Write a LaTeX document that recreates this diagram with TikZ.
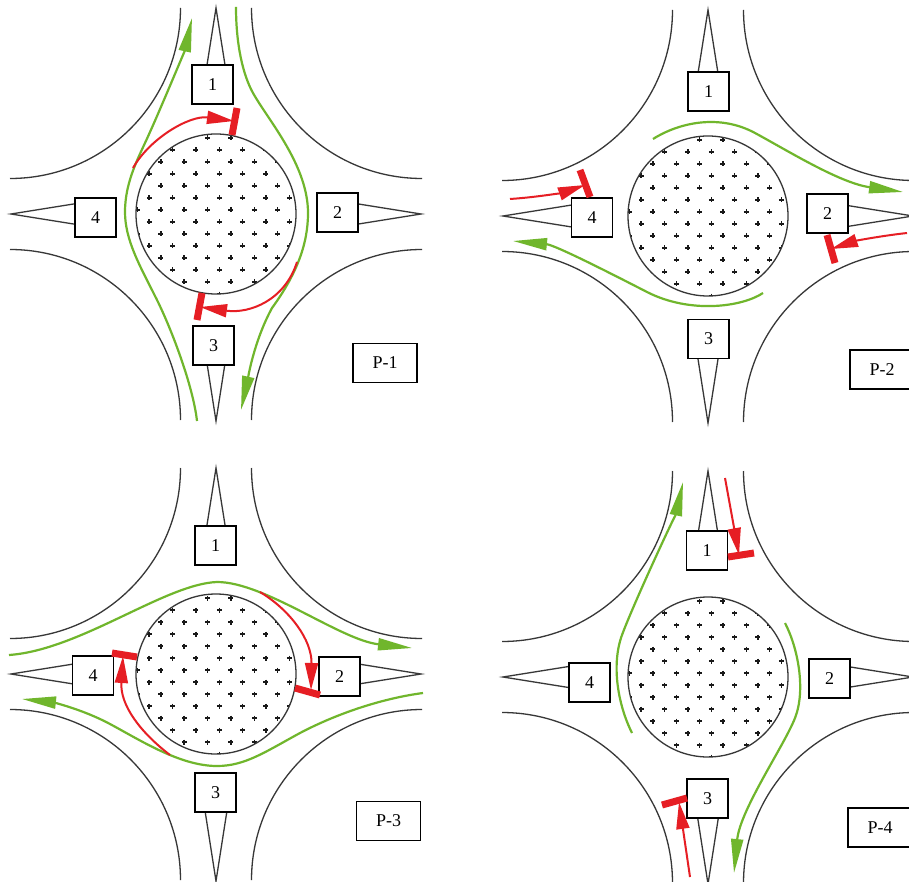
\documentclass[tikz,border=0pt]{standalone}
\usepackage{fontspec}
\setmainfont{Liberation Serif}
\usetikzlibrary{arrows.meta}
\definecolor{gr}{RGB}{112,182,44}
\definecolor{rd}{RGB}{230,30,36}
\definecolor{rl}{RGB}{55,55,55}
\begin{document}
\begin{tikzpicture}[x=1pt,y=-1pt,
  road/.style={draw=rl, line width=1.3pt},
  lbl/.style={draw=black, line width=1.9pt, fill=white, minimum width=41pt, minimum height=39pt, inner sep=0pt, font=\fontsize{18}{20}\selectfont},
  plbl/.style={lbl, minimum width=64pt, minimum height=39pt},
  gflow/.style={draw=gr, line width=2.2pt, -{Triangle[length=34pt,width=12pt]}},
  rflow/.style={draw=rd, line width=2pt, -{Triangle[length=27pt,width=13pt]}},
  stopbar/.style={draw=rd, line width=7pt},
  dotmark/.style={draw=black!90, line width=1.6pt},
  rab/.pic={
    \draw[road] (-35.5,-206) arc[start angle=0,end angle=90,radius=170.5];
    \draw[road] (35.5,-206) arc[start angle=180,end angle=90,radius=170.5];
    \draw[road] (-206,35.5) arc[start angle=-90,end angle=0,radius=170.5];
    \draw[road] (206,35.5) arc[start angle=-90,end angle=-180,radius=170.5];
    \draw[road] (-13.6,-120) -- (0,-206) -- (13.6,-120);
    \draw[road] (-13.6,120) -- (0,207) -- (13.6,120);
    \draw[road] (-120,-13.6) -- (-205,0) -- (-120,13.6);
    \draw[road] (120,-13.6) -- (205,0) -- (120,13.6);
    \begin{scope}
      \clip (0,0) circle[radius=80];
      \foreach \i in {-7,...,7}{\foreach \j in {-4,...,10}{%
        \pgfmathtruncatemacro\dsum{\i+\j+40}%
        \ifodd\dsum\else
          \draw[dotmark] ({3.3+11.67*\i-2.5},{-40+12*\j}) -- ++(5,0)
                         ({3.3+11.67*\i},{-40+12*\j-2.5}) -- ++(0,5);
        \fi
      }}
    \end{scope}
    \draw[road] (0,0) circle[radius=80];
  }
]
\fill[white] (0,0) rectangle (909,882);
\useasboundingbox (0,0) rectangle (909,882);

\pic at (216,214) {rab};
\pic at (708,216) {rab};
\pic at (216,674) {rab};
\pic at (708,677) {rab};

% ---------- labels ----------
\node[lbl] (a1) at (212.5,84.5) {1};
\node[lbl] (a2) at (337.5,212.5) {2};
\node[lbl] (a3) at (213.5,345.5) {3};
\node[lbl] (a4) at (95.5,217.5) {4};
\node[plbl] (ap) at (385,363) {P-1};

\node[lbl] (b1) at (708.5,91.5) {1};
\node[lbl] (b2) at (827.5,213.5) {2};
\node[lbl] (b3) at (708.5,339) {3};
\node[lbl] (b4) at (592,217.5) {4};
\node[plbl] (bp) at (882,369.5) {P-2};

\node[lbl] (c1) at (215.5,545.5) {1};
\node[lbl] (c2) at (339.5,676.5) {2};
\node[lbl] (c3) at (215.5,792.5) {3};
\node[lbl] (c4) at (93,675.5) {4};
\node[plbl] (cp) at (388.5,821) {P-3};

\node[lbl] (d1) at (707,550.5) {1};
\node[lbl] (d2) at (829.5,678.5) {2};
\node[lbl] (d3) at (707.5,798.5) {3};
\node[lbl] (d4) at (589.5,682.5) {4};
\node[plbl] (dp) at (880,827.5) {P-4};

% ---------- P-1 ----------
\draw[gflow] (197,421) .. controls (193,385) and (170,325) .. (155,296)
             .. controls (140,266) and (125,240) .. (125,212)
             .. controls (125,180) and (140,155) .. (150,132)
             .. controls (160,110) and (185,50) .. (192,18);
\draw[gflow] (236,7) .. controls (236,45) and (243,75) .. (253,93)
             .. controls (268,120) and (308,165) .. (308,213)
             .. controls (308,245) and (296,275) .. (272,308)
             .. controls (254,341) and (248,378) .. (241,410);
\draw[rflow] (133,168) .. controls (150,138) and (190,115) .. (234,121);
\draw[stopbar] (237,108) -- (232,135);
\draw[rflow] (297,262) .. controls (285,300) and (250,314) .. (200,307);
\draw[stopbar] (202,293) -- (197,320);

% ---------- P-2 ----------
\draw[gflow] (653,139) .. controls (680,122) and (720,114) .. (755,133)
             .. controls (790,152) and (840,183) .. (903,192);
\draw[gflow] (763,293) .. controls (742,307) and (690,314) .. (647,292)
             .. controls (610,273) and (555,245) .. (513,241);
\draw[rflow] (510,199) .. controls (540,197) and (565,192) .. (585,185);
\draw[stopbar] (580,170) -- (590,197);
\draw[rflow] (907,233) .. controls (880,236) and (855,241) .. (831,249);
\draw[stopbar] (827,235) -- (835,263);

% ---------- P-3 ----------
\draw[gflow] (9,655) .. controls (80,650) and (165,584) .. (217,582)
             .. controls (265,582) and (340,640) .. (412,648);
\draw[gflow] (423,693) .. controls (385,698) and (340,712) .. (300,733)
             .. controls (265,752) and (245,766) .. (217,766)
             .. controls (180,766) and (140,740) .. (110,724)
             .. controls (80,708) and (50,702) .. (22,699);
\draw[rflow] (260,592) .. controls (290,610) and (312,640) .. (311,690);
\draw[stopbar] (295,688) -- (320,695);
\draw[rflow] (170,755) .. controls (140,732) and (120,705) .. (123,656);
\draw[stopbar] (112,653) -- (137,657);

% ---------- P-4 ----------
\draw[gflow] (632,733) .. controls (618,705) and (611,665) .. (622,635)
             .. controls (633,605) and (677,510) .. (683,482);
\draw[gflow] (785,623) .. controls (798,648) and (806,690) .. (795,718)
             .. controls (784,746) and (740,810) .. (734,873);
\draw[rflow] (725,478) -- (739,555);
\draw[stopbar] (728,557) -- (754,553);
\draw[rflow] (690,877) -- (679,802);
\draw[stopbar] (662,805) -- (687,798);
\end{tikzpicture}
\end{document}
